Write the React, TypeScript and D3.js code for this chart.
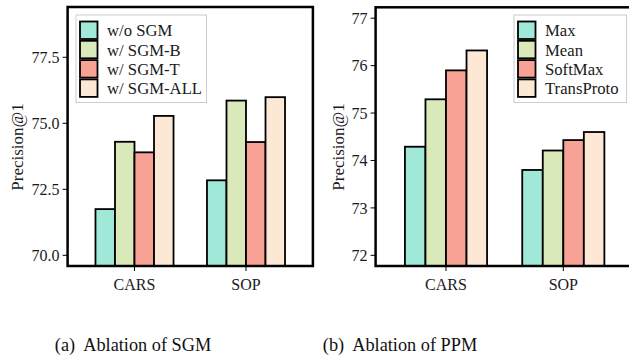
import React from 'react'
import * as d3 from 'd3'

const groups = ['CARS', 'SOP']
const colors = ['#A0E8D8', '#DAE9B9', '#F8A295', '#FDE8D6']

const sgmSeries = ['w/o SGM', 'w/ SGM-B', 'w/ SGM-T', 'w/ SGM-ALL']
const sgmValues = [
  [71.75, 74.3, 73.9, 75.28],
  [72.84, 75.86, 74.29, 75.99],
]
const sgmTicks = [70.0, 72.5, 75.0, 77.5]

const ppmSeries = ['Max', 'Mean', 'SoftMax', 'TransProto']
const ppmValues = [
  [74.29, 75.29, 75.9, 76.32],
  [73.8, 74.21, 74.43, 74.6],
]
const ppmTicks = [72, 73, 74, 75, 76, 77]

const font = '"Liberation Serif", "Times New Roman", serif'

const Panel = ({ left, right, top, bottom, domain, ticks, fmt, series, values, legendX, legendW, labelX }) => {
  const x = d3.scaleLinear().domain([-0.6, 1.6]).range([left, right])
  const y = d3.scaleLinear().domain(domain).range([bottom, top])
  const bw = (x(0.7) - x(0)) / series.length
  const format = d3.format(fmt)
  const rowH = 19.3

  return (
    <g>
      <defs>
        <clipPath id={`clip-${left}`}>
          <rect x={left} y={top} width={right - left} height={bottom - top} />
        </clipPath>
      </defs>
      {values.map((vals, gi) =>
        vals.map((v, si) => (
          <rect
            key={`${gi}-${si}`}
            x={x(gi - 0.35) + si * bw}
            y={y(v)}
            width={bw}
            height={bottom - y(v)}
            fill={colors[si]}
            stroke="#000"
            strokeWidth={1.8}
            clipPath={`url(#clip-${left})`}
          />
        ))
      )}
      {ticks.map(t => (
        <g key={t}>
          <line x1={left - 5} x2={left} y1={y(t)} y2={y(t)} stroke="#000" strokeWidth={1} />
          <text x={left - 8} y={y(t)} dy="0.35em" textAnchor="end" fontSize={16} fill="#1a1a1a">
            {format(t)}
          </text>
        </g>
      ))}
      {groups.map((g, gi) => (
        <g key={g}>
          <line x1={x(gi)} x2={x(gi)} y1={bottom} y2={bottom + 5} stroke="#000" strokeWidth={1} />
          <text x={x(gi)} y={290} textAnchor="middle" fontSize={16} fill="#1a1a1a">
            {g}
          </text>
        </g>
      ))}
      <rect x={left} y={top} width={right - left} height={bottom - top} fill="none" stroke="#000" strokeWidth={2.5} />
      <text
        transform={`translate(${labelX},147) rotate(-90)`}
        textAnchor="middle"
        dy="0.35em"
        fontSize={17}
        fill="#1a1a1a"
      >
        Precision@1
      </text>
      <g transform={`translate(${legendX},15)`}>
        <rect x={0} y={0} width={legendW} height={87.5} fill="#fff" fillOpacity={0.85} stroke="#ccc" strokeWidth={1} />
        {series.map((s, si) => (
          <g key={s} transform={`translate(4,${6.5 + si * rowH})`}>
            <rect x={0} y={0} width={17.5} height={17.5} fill={colors[si]} stroke="#000" strokeWidth={1.8} />
            <text x={27} y={9} dy="0.35em" fontSize={16.7} fill="#1a1a1a">
              {s}
            </text>
          </g>
        ))}
      </g>
    </g>
  )
}

export default function App() {
  return (
    <svg width={629} height={358} style={{ position: 'absolute', left: 0, top: 0, background: '#fff' }} fontFamily={font}>
      <Panel
        left={67.6}
        right={312.9}
        top={7}
        bottom={266}
        domain={[69.595, 79.405]}
        ticks={sgmTicks}
        fmt=".1f"
        series={sgmSeries}
        values={sgmValues}
        legendX={76}
        legendW={130.5}
        labelX={17}
      />
      <Panel
        left={375.6}
        right={633.7}
        top={7.3}
        bottom={266}
        domain={[71.775, 77.23]}
        ticks={ppmTicks}
        fmt="d"
        series={ppmSeries}
        values={ppmValues}
        legendX={514}
        legendW={112.5}
        labelX={338}
      />
      <text x={133} y={351} textAnchor="middle" fontSize={18.3} fill="#111">
        (a)&#160; Ablation of SGM
      </text>
      <text x={400} y={351} textAnchor="middle" fontSize={18.3} fill="#111">
        (b)&#160; Ablation of PPM
      </text>
    </svg>
  )
}
